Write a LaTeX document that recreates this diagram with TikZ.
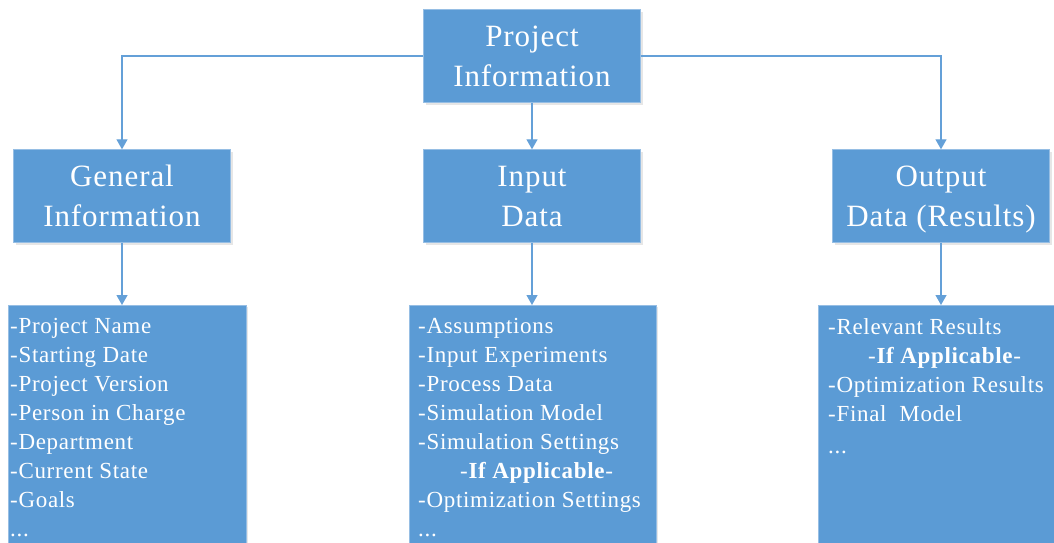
\documentclass[tikz,border=0pt]{standalone}
\usepackage{fontspec}
\setmainfont{Liberation Serif}
\usetikzlibrary{arrows.meta,positioning,shadows}
\definecolor{boxblue}{RGB}{91,155,213}
\definecolor{edgeblue}{RGB}{150,190,228}
\definecolor{lineblue}{RGB}{100,160,216}
\begin{document}
\begin{tikzpicture}
[x=1pt,y=-1pt,
head/.style={draw=edgeblue,fill=boxblue,text=white,minimum width=217pt,minimum height=93pt,
  align=center,inner sep=0pt,drop shadow={opacity=0.2,shadow xshift=2pt,shadow yshift=-2pt},
  font=\fontsize{31}{40}\selectfont\addfontfeatures{LetterSpace=3}},
listbox/.style={draw=edgeblue,fill=boxblue,minimum height=260pt,anchor=north,inner sep=0pt,
  drop shadow={opacity=0.2,shadow xshift=2pt,shadow yshift=-2pt}},
items/.style={text=white,align=left,inner sep=0pt,anchor=north west,
  font=\fontsize{23}{29}\selectfont\addfontfeatures{LetterSpace=3}},
link/.style={draw=lineblue,line width=1.3pt,-{Triangle[width=11pt,length=10pt]}}]
\useasboundingbox (0,0) rectangle (1054,542);
% top level
\node[head] (proj) at (532,56) {Project\\Information};
% second level
\node[head] (gen) at (122,196) {General\\Information};
\node[head] (inp) at (532,196) {Input\\Data};
\node[head] (outp) at (941,196) {Output\\Data \smash{(Results)}};
% lists
\node[listbox,minimum width=238pt] (genlist) at (127,305) {};
\node[listbox,minimum width=247pt] (inplist) at (532.5,305) {};
\node[listbox,minimum width=240pt] (outlist) at (938,305) {};
\node[items] (genitems) at (10,318) {-Project Name\\-Starting Date\\-Project Version\\-Person in Charge\\
  -Department\\-Current State\\-Goals\\...};
\node[items] (inpitems) at (418,318) {-Assumptions\\-Input Experiments\\-Process Data\\-Simulation Model\\
  -Simulation Settings\\\hspace*{42pt}-\textbf{If Applicable}-\\-Optimization Settings\\...};
\node[items] (outitems) at (828,318) {-Relevant Results\\\hspace*{40pt}-\textbf{If Applicable}-\\
  -Optimization Results\\-Final~ Model\\[3pt]...};
% connectors
\draw[link] (proj.west) -| (gen.north);
\draw[link] (proj.east) -| (outp.north);
\draw[link] (proj.south) -- (inp.north);
\draw[link] (gen.south) -- (gen.south |- genlist.north);
\draw[link] (inp.south) -- (inp.south |- inplist.north);
\draw[link] (outp.south) -- (outp.south |- outlist.north);
\end{tikzpicture}
\end{document}
